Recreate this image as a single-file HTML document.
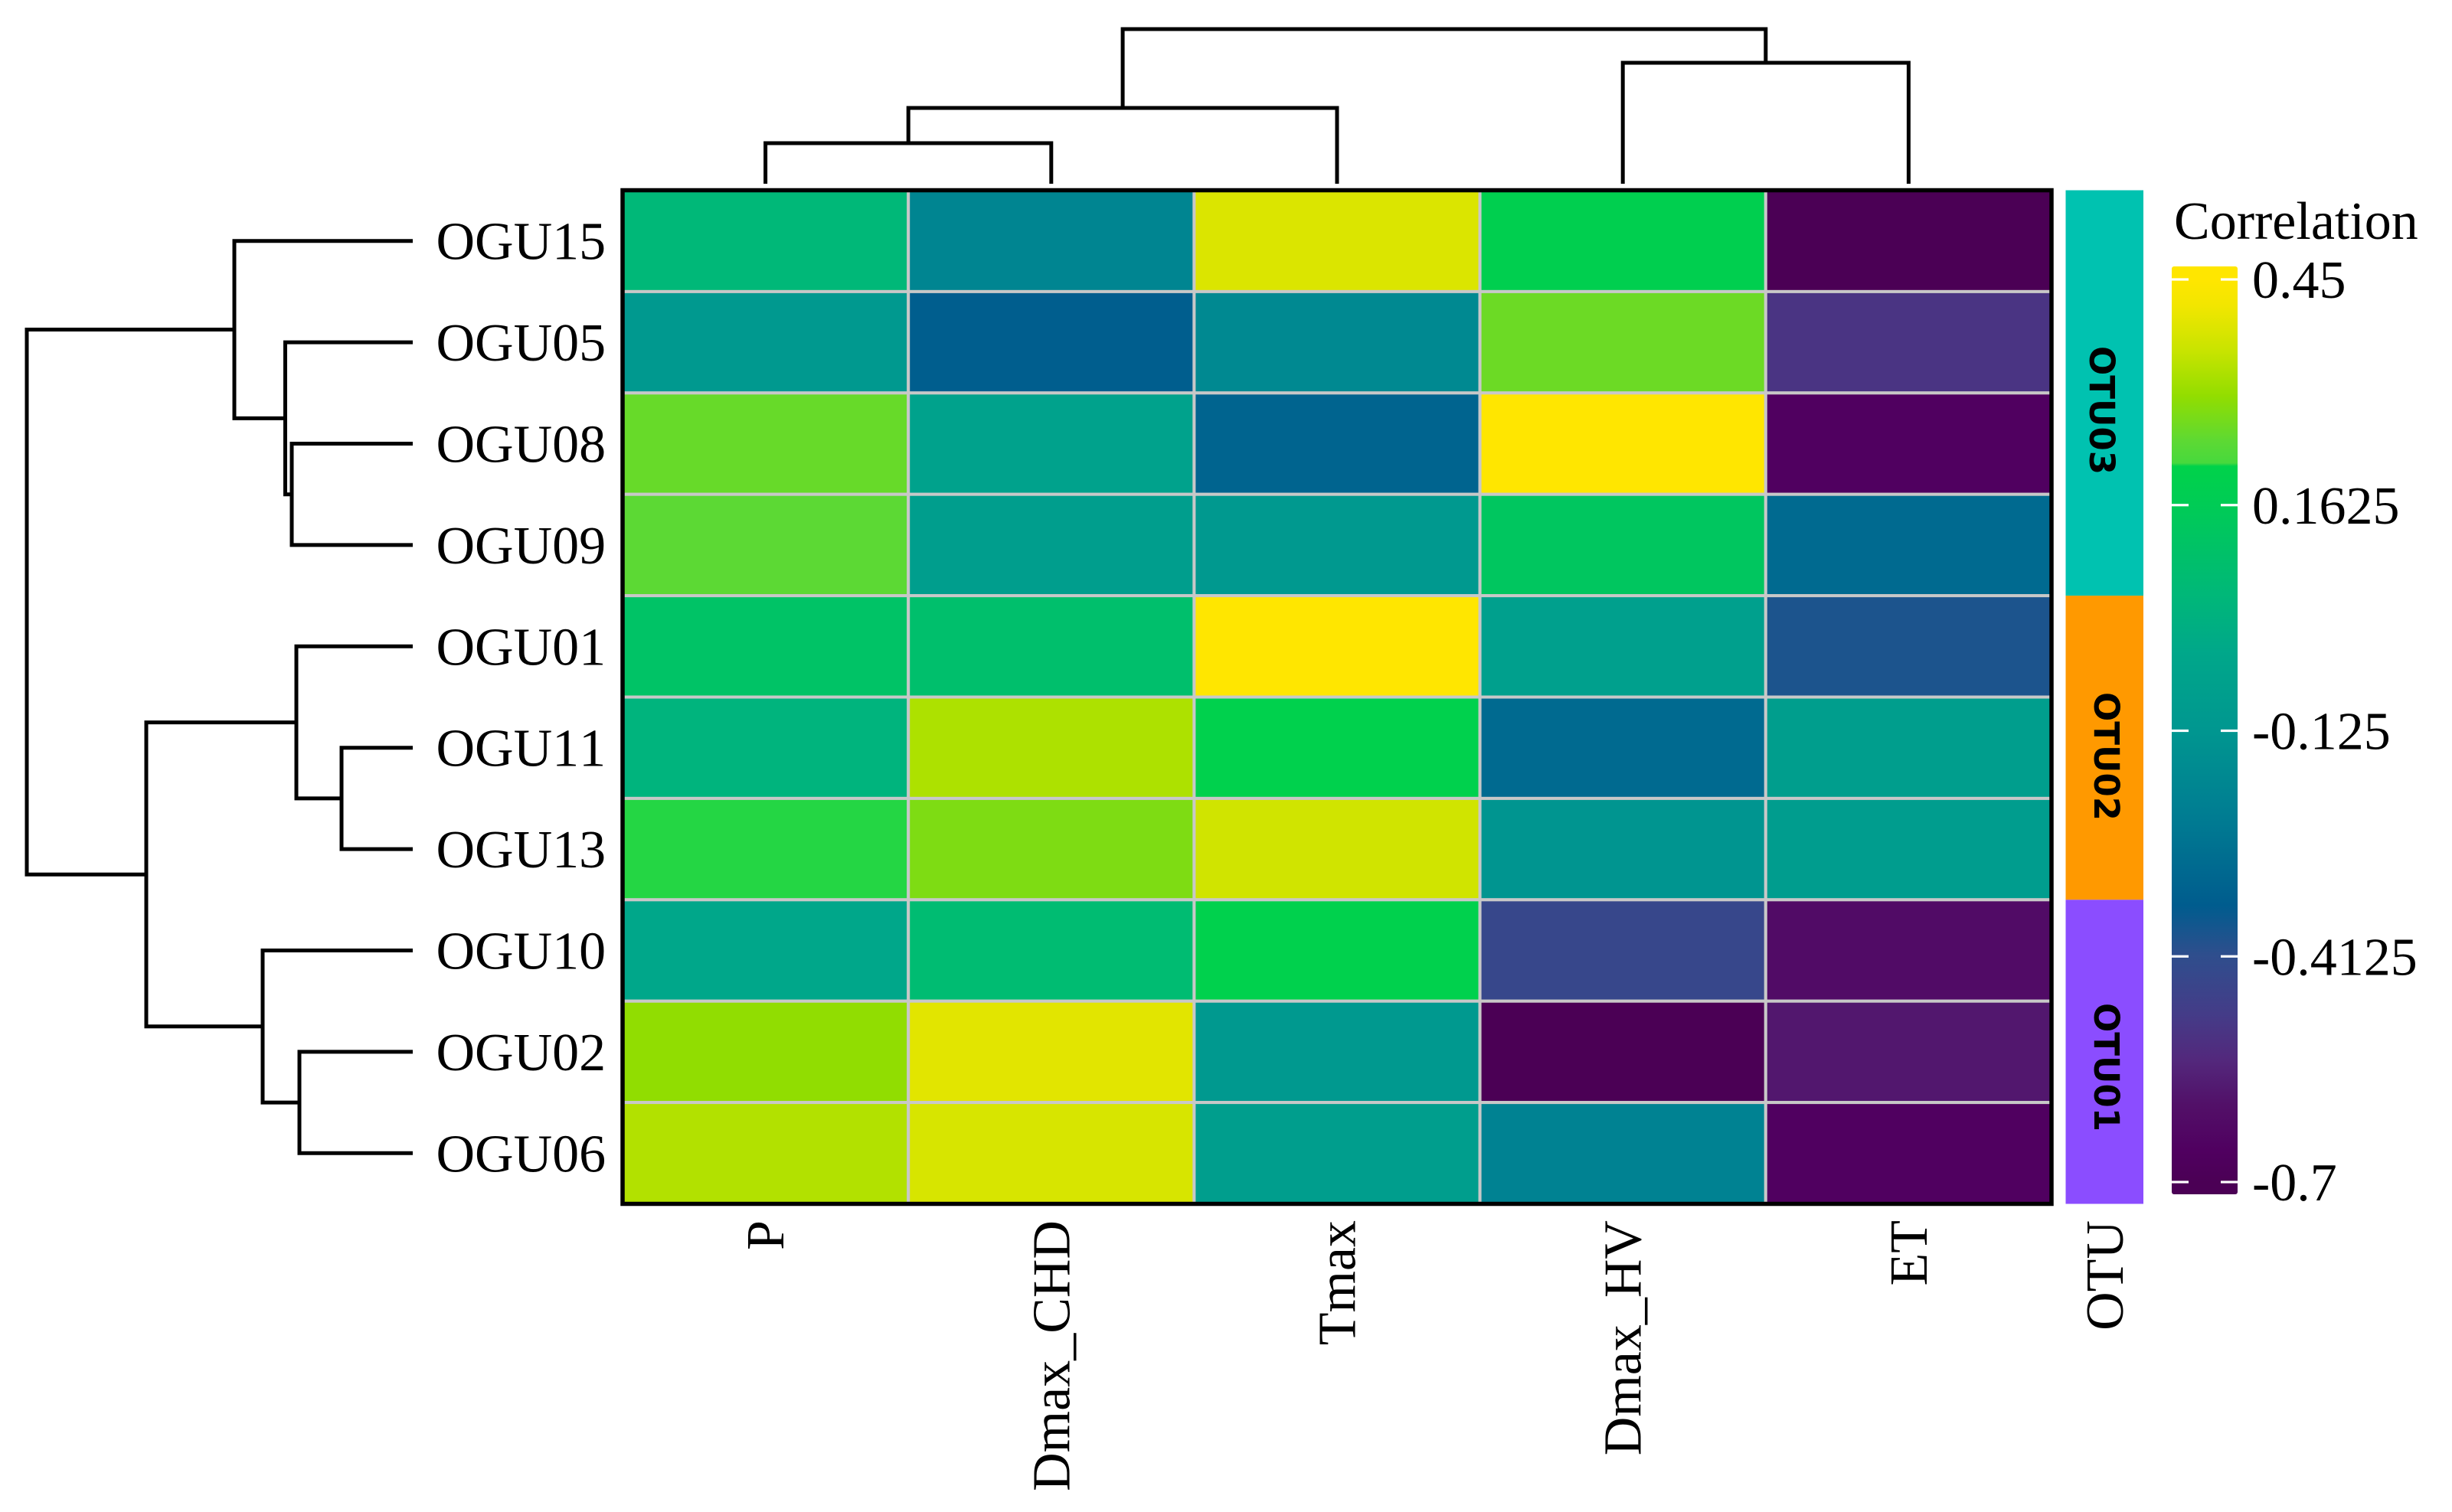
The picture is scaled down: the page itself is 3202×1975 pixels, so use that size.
<!DOCTYPE html>
<html lang="en">
<head>
<meta charset="utf-8">
<title>Correlation heatmap</title>
<style>
html,body{margin:0;padding:0;background:#fff;}
svg{display:block;}
text{font-family:"Liberation Serif",serif;fill:#000;font-kerning:none;}
.otu-tag{font-family:"DejaVu Sans",sans-serif;font-weight:bold;font-size:45px;}
</style>
</head>
<body>
<svg id="chart" xmlns="http://www.w3.org/2000/svg" width="3202" height="1975" viewBox="0 0 3202 1975">
  <rect x="0" y="0" width="3202" height="1975" fill="#ffffff"/>
  <defs>
    <linearGradient id="legendGradient" x1="0" y1="0" x2="0" y2="1"></linearGradient>
  </defs>
  <g id="rowDendro"></g>
  <g id="colDendro"></g>
  <g id="rowLabels"></g>
  <g id="cells"></g>
  <rect x="813" y="248.5" width="1866" height="1324" fill="none" stroke="#000" stroke-width="5.5"/>
  <g id="colLabels"></g>
  <g id="annotation"></g>
  <text class="otu-tag" transform="translate(2729,452) rotate(90)">OTU03</text>
  <text class="otu-tag" transform="translate(2735,904) rotate(90)">OTU02</text>
  <text class="otu-tag" transform="translate(2735,1310) rotate(90)">OTU01</text>
  <text font-size="70" text-anchor="end" transform="translate(2772,1594) rotate(-90)">OTU</text>
  <text font-size="70" x="2839" y="312">Correlation</text>
  <rect x="2836" y="348" width="86" height="1212" rx="3" fill="url(#legendGradient)"/>
  <g id="legendTicks"></g>
</svg>
<script>
// ---- chart data ----
const rowNames = ['OGU15','OGU05','OGU08','OGU09','OGU01','OGU11','OGU13','OGU10','OGU02','OGU06'];
const colNames = ['P','Dmax_CHD','Tmax','Dmax_HV','ET'];
const valuesP    = [0.05, -0.11, 0.255, 0.243, 0.11, 0.03, 0.214, -0.03, 0.30, 0.335];
const valuesCHD  = [-0.20, -0.34, -0.06, -0.08, 0.09, 0.33, 0.28, 0.07, 0.395, 0.38];
const valuesTmax = [0.385, -0.18, -0.32, -0.11, 0.45, 0.20, 0.37, 0.20, -0.11, -0.08];
const valuesHV   = [0.19, 0.26, 0.45, 0.13, -0.07, -0.30, -0.13, -0.44, -0.70, -0.21];
const valuesET   = [-0.70, -0.51, -0.66, -0.30, -0.385, -0.08, -0.09, -0.62, -0.585, -0.66];
const legendTickValues = [0.45, 0.1625, -0.125, -0.4125, -0.7];
const legendTickLabels = ['0.45', '0.1625', '-0.125', '-0.4125', '-0.7'];
const scaleValues = [0.4666,0.45,0.417,0.359,0.301,0.243,0.216,0.212,0.164,0.05,-0.027,-0.123,-0.236,-0.348,-0.411,-0.486,-0.545,-0.602,-0.66,-0.7,-0.7156];
const scaleColors = ['#FFE600','#FFE600','#F2E600','#C8E400','#92DD00','#5CD934','#47D93D','#00D24A','#00CC55','#00B878','#00A78A','#009790','#007C92','#005C8E','#2F4E8D','#443C88','#53287C','#521068','#500060','#4B0055','#4B0055'];
const otuGroups = ['OTU03','OTU02','OTU01'];
const otuRowCounts = [4,3,3];
const otuColors = ['#00C2B0','#FF9900','#8B4DFF'];
const rowMerges = [
  ['OGU08','OGU09',1.58],
  ['OGU05','r0',1.665],
  ['OGU15','r1',2.33],
  ['OGU11','OGU13',0.93],
  ['OGU01','r3',1.52],
  ['OGU02','OGU06',1.48],
  ['OGU10','r5',1.96],
  ['r4','r6',3.48],
  ['r2','r7',5.04]
];
const colMerges = [
  ['P','Dmax_CHD',0.53],
  ['c0','Tmax',0.99],
  ['Dmax_HV','ET',1.58],
  ['c1','c2',2.02]
];

// ---- layout and scales ----
const NS = 'http://www.w3.org/2000/svg';
const plotLeft = 813, plotTop = 248.5, cellW = 373.2, cellH = 132.4;
const rowCenter = i => plotTop + (i + 0.5) * cellH;
const colCenter = j => plotLeft + (j + 0.5) * cellW;
const rowDistX = d => 539 - d * 100;
const colDistY = d => 240 - d * 100;
const legendY = v => 365 + (0.45 - v) * (1179 / 1.15);
const matrixColumns = [valuesP, valuesCHD, valuesTmax, valuesHV, valuesET];

function hexToRgb(h){
  return [parseInt(h.slice(1,3),16),parseInt(h.slice(3,5),16),parseInt(h.slice(5,7),16)];
}
function colorFor(v){
  for(let i=0;i<scaleValues.length-1;i++){
    const hi=scaleValues[i], lo=scaleValues[i+1];
    if(v<=hi && v>=lo){
      const t=hi===lo?0:(hi-v)/(hi-lo);
      const a=hexToRgb(scaleColors[i]), b=hexToRgb(scaleColors[i+1]);
      return 'rgb('+a.map((c,k)=>Math.round(c+(b[k]-c)*t)).join(',')+')';
    }
  }
  return v>scaleValues[0]?scaleColors[0]:scaleColors[scaleColors.length-1];
}
function mk(tag,parent,attrs,text){
  const el=document.createElementNS(NS,tag);
  for(const k in attrs){el.setAttribute(k,attrs[k]);}
  if(text!==undefined){el.textContent=text;}
  parent.appendChild(el);
  return el;
}

// ---- legend gradient ----
const grad=document.getElementById('legendGradient');
const gradTop=348, gradBottom=1560;
scaleValues.forEach((v,i)=>{
  const off=(legendY(v)-gradTop)/(gradBottom-gradTop);
  mk('stop',grad,{offset:Math.max(0,Math.min(1,off)),'stop-color':scaleColors[i]});
});

// ---- heatmap cells ----
const cellsG=document.getElementById('cells');
rowNames.forEach((row,i)=>{
  colNames.forEach((col,j)=>{
    const el=mk('rect',cellsG,{x:plotLeft+j*cellW,y:plotTop+i*cellH,width:cellW,height:cellH,fill:colorFor(matrixColumns[j][i]),stroke:'#c8c8c8','stroke-width':4});
    
    
  });
});

// ---- axis labels ----
const rowLabelsG=document.getElementById('rowLabels');
rowNames.forEach((row,i)=>{
  const el=mk('text',rowLabelsG,{x:569.5,y:rowCenter(i)+24,'font-size':70},row);
  
  
});
const colLabelsG=document.getElementById('colLabels');
colNames.forEach((col,j)=>{
  const el=mk('text',colLabelsG,{'font-size':70,'text-anchor':'end',transform:'translate('+(colCenter(j)+23.5)+',1594) rotate(-90)'},col);
  
  
});

// ---- dendrograms ----
const rowDendroG=document.getElementById('rowDendro');
const rowNodes={};
rowNames.forEach((n,i)=>{rowNodes[n]={pos:rowCenter(i),dist:0};});
rowMerges.forEach((m,k)=>{
  const a=rowNodes[m[0]], b=rowNodes[m[1]], x=rowDistX(m[2]);
  const p=mk('path',rowDendroG,{d:'M'+rowDistX(a.dist)+' '+a.pos+'H'+x+'V'+b.pos+'H'+rowDistX(b.dist),fill:'none',stroke:'#000','stroke-width':5,'stroke-linejoin':'miter'});
  
  
  rowNodes['r'+k]={pos:(a.pos+b.pos)/2,dist:m[2]};
});
const colDendroG=document.getElementById('colDendro');
const colNodes={};
colNames.forEach((n,j)=>{colNodes[n]={pos:colCenter(j),dist:0};});
colMerges.forEach((m,k)=>{
  const a=colNodes[m[0]], b=colNodes[m[1]], y=colDistY(m[2]);
  const p=mk('path',colDendroG,{d:'M'+a.pos+' '+colDistY(a.dist)+'V'+y+'H'+b.pos+'V'+colDistY(b.dist),fill:'none',stroke:'#000','stroke-width':5,'stroke-linejoin':'miter'});
  
  
  colNodes['c'+k]={pos:(a.pos+b.pos)/2,dist:m[2]};
});

// ---- OTU annotation bars ----
const annG=document.getElementById('annotation');
let rowCursor=0;
otuGroups.forEach((g,i)=>{
  const el=mk('rect',annG,{x:2697.5,y:plotTop+rowCursor*cellH,width:101.5,height:otuRowCounts[i]*cellH,fill:otuColors[i]});
  
  
  rowCursor+=otuRowCounts[i];
});

// ---- legend ticks ----
const ticksG=document.getElementById('legendTicks');
legendTickValues.forEach((v,i)=>{
  const y=legendY(v);
  const left=mk('rect',ticksG,{x:2836,y:y-1.6,width:22,height:3.2,fill:'#fff'});
  
  
  const right=mk('rect',ticksG,{x:2900,y:y-1.6,width:22,height:3.2,fill:'#fff'});
  
  
  const lab=mk('text',ticksG,{x:2941,y:y+24,'font-size':70},legendTickLabels[i]);
  
  
});
</script>
</body>
</html>
